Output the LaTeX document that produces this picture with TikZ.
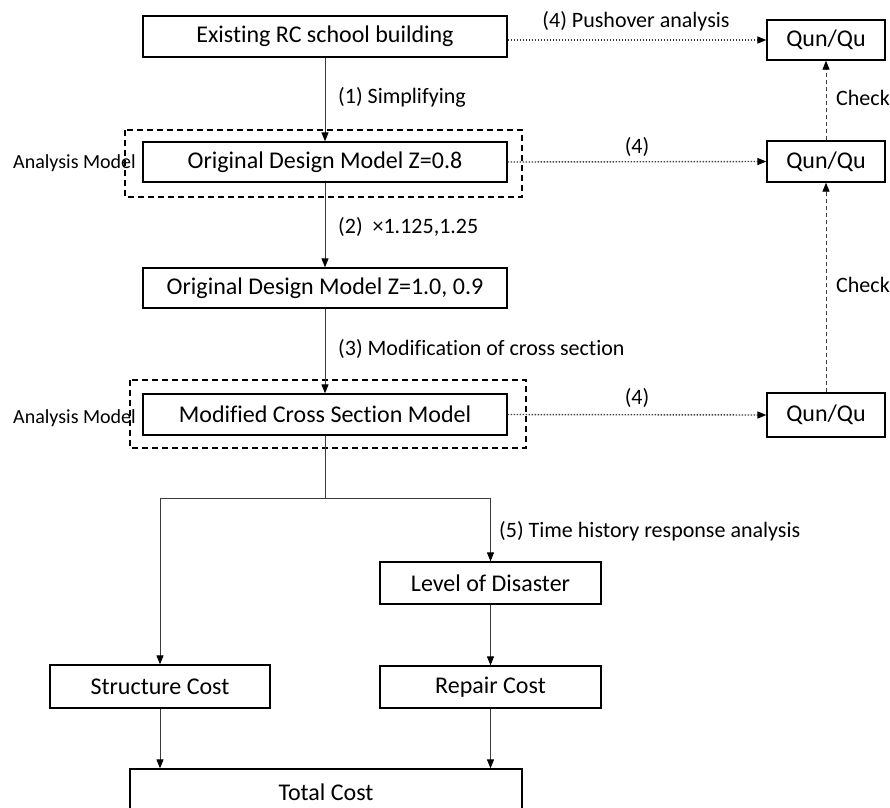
\documentclass[tikz,border=0pt]{standalone}
\usepackage{fontspec}
\setmainfont[Ligatures=NoCommon]{Carlito}
\usetikzlibrary{arrows.meta, positioning, calc}
\definecolor{linec}{HTML}{3A3A3A}
\definecolor{dotc}{HTML}{404040}
\tikzset{
  box/.style={draw=black, fill=white, line width=1.3pt, align=center,
              font=\fontsize{24}{28}\selectfont, inner sep=0pt},
  wide/.style={box, minimum width=364pt, minimum height=40pt},
  qbox/.style={box, minimum width=118pt, minimum height=41pt},
  cost/.style={box, minimum width=221pt, minimum height=42pt},
  group/.style={draw=black, line width=1.6pt, dash pattern=on 6pt off 4pt},
  lbl/.style={font=\fontsize{22}{26}\selectfont, inner sep=1pt},
  side/.style={font=\fontsize{20}{24}\selectfont, inner sep=0pt},
  arr/.style={-{Triangle[length=9pt,width=7pt,color=black]}, draw=linec, line width=1pt},
  plain/.style={draw=linec, line width=1pt},
  dots/.style={-{Triangle[length=9pt,width=7pt,color=black]}, draw=dotc, line width=1.4pt,
               dash pattern=on 1.5pt off 1.5pt},
  chk/.style={-{Triangle[length=9pt,width=7pt,color=black]}, draw=dotc, line width=0.8pt,
              dash pattern=on 4pt off 3pt},
}

\begin{document}
\begin{tikzpicture}[x=1pt, y=-1pt]
\useasboundingbox (0,0) rectangle (890,807);
\clip (0,0) rectangle (890,807);

% ---------------- the models ----------------
\node[wide, minimum height=41pt] (exist) at (325,36.5) {Existing RC school building};
\node[wide] (orig08) at (325,162) {Original Design Model Z=0.8};
\node[wide] (orig10) at (325,288) {Original Design Model Z=1.0, 0.9};
\node[wide, minimum height=41pt] (modif) at (325,414.5) {Modified Cross Section Model};

% the analysis model frames
\draw[group] (125,130) rectangle (522,197);
\draw[group] (130,380) rectangle (526,448);
\node[side, anchor=east] (am1) at (136,163) {Analysis Model};
\node[side, anchor=east] (am2) at (136,418) {Analysis Model};

% ---------------- the checks ----------------
\node[qbox, minimum height=40pt] (q1) at (826,40) {Qun/Qu};
\node[qbox] (q2) at (826,161.5) {Qun/Qu};
\node[qbox, minimum height=44pt] (q3) at (826,415) {Qun/Qu};

% ---------------- the costs ----------------
\node[cost] (lvl) at (490.5,583) {Level of Disaster};
\node[cost, minimum width=220pt, minimum height=43pt] (struct) at (160,686.5) {Structure Cost};
\node[cost] (repair) at (490.5,687) {Repair Cost};
\node[box, minimum width=392pt, minimum height=46pt] (total) at (326,792) {Total Cost};
\coordinate (split) at (325,498);

% steps down
\draw[arr] (exist.south) -- (orig08.north);
\draw[arr] (orig08.south) -- (orig10.north);
\draw[arr] (orig10.south) -- (modif.north);
\draw[plain] (modif.south) -- (split);
\draw[arr] (split) -| (struct.north);
\draw[arr] (split) -| (lvl.north);
\draw[arr] (lvl.south) -- (repair.north);
\draw[arr] (struct.south) -- (struct.south |- total.north);
\draw[arr] (repair.south) -- (repair.south |- total.north);

\node[lbl, anchor=west] (s1) at (337,97) {(1) Simplifying};
\node[lbl, anchor=west] (s2) at (337,227) {(2)~~×1.125,1.25};
\node[lbl, anchor=west] (s3) at (337,349) {(3) Modification of cross section};
\node[lbl, anchor=west] (s5) at (498,531) {(5) Time history response analysis};

% pushover analysis of every model
\draw[dots] (exist.east |- q1.west) -- (q1.west);
\draw[dots] (orig08.east) -- (q2.west);
\draw[dots] (modif.east) -- (q3.west);
\node[lbl] (p1) at (636,21) {(4) Pushover analysis};
\node[lbl] (p2) at (637,147) {(4)};
\node[lbl] (p3) at (637,398) {(4)};

\draw[chk] (q2.north) -- (q1.south);
\draw[chk] (q3.north) -- (q2.south);
\node[lbl, anchor=west] (c1) at (835,98) {Check};
\node[lbl, anchor=west] (c2) at (835,285) {Check};
\end{tikzpicture}
\end{document}
